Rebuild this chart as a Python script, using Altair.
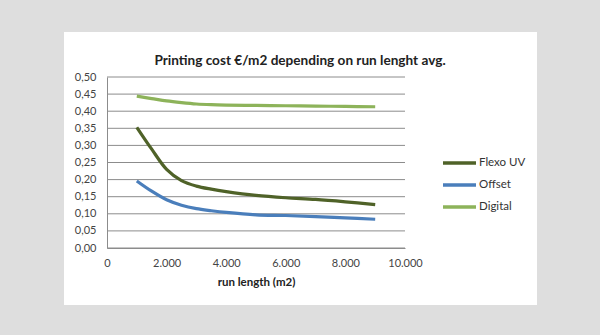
import altair as alt
import pandas as pd

run_length = [1000, 1500, 2000, 2500, 3000, 3500, 4000, 5000, 6000, 7000, 8000, 9000]
flexo_uv = [0.353, 0.289, 0.230, 0.197, 0.181, 0.172, 0.165, 0.154, 0.147, 0.142, 0.135, 0.127]
offset = [0.196, 0.166, 0.141, 0.125, 0.115, 0.109, 0.104, 0.097, 0.095, 0.092, 0.088, 0.084]
digital = [0.444, 0.437, 0.430, 0.425, 0.421, 0.419, 0.418, 0.417, 0.416, 0.415, 0.414, 0.413]

series = ["Flexo UV", "Offset", "Digital"]
colors = ["#4f6228", "#4a7ebb", "#8db35a"]

y_ticks = [0, 0.05, 0.1, 0.15, 0.2, 0.25, 0.3, 0.35, 0.4, 0.45, 0.5]
x_ticks = [0, 2000, 4000, 6000, 8000, 10000]

rows = []
for name, vals in zip(series, [flexo_uv, offset, digital]):
    for x, v in zip(run_length, vals):
        rows.append({"run": x, "cost": v, "series": name})
df = pd.DataFrame(rows)

FONT = "Lato"

xscale = alt.Scale(domain=[0, 10000], nice=False)
yscale = alt.Scale(domain=[0, 0.5], nice=False)

y_axis = alt.Axis(values=y_ticks,
                  labelExpr="replace(format(datum.value, '.2f'), '.', ',')",
                  title=None, grid=False, ticks=False, labelFlush=False,
                  domainColor="#8c8c8c", labelPadding=11, zindex=1)

panel = alt.Chart(pd.DataFrame({"a": [0]})).mark_rect(color="white").encode(
    x=alt.value(-43), x2=alt.value(430), y=alt.value(-45), y2=alt.value(228)
)

grid = alt.Chart(pd.DataFrame({"cost": y_ticks})).mark_rule(color="#8c8c8c", strokeWidth=1).encode(
    y=alt.Y("cost:Q", scale=yscale, axis=y_axis),
    x=alt.value(0), x2=alt.value(298),
)

lines = alt.Chart(df).mark_line(strokeWidth=3.2, interpolate="catmull-rom").encode(
    x=alt.X("run:Q", scale=xscale,
            axis=alt.Axis(values=x_ticks,
                          labelExpr="replace(format(datum.value, ','), ',', '.')",
                          title="run length (m2)", grid=False, ticks=False, labelFlush=False,
                          domainColor="#8c8c8c", labelPadding=9, titlePadding=8,
                          titleFontWeight="bold", titleFontSize=11.5, titleColor="#222222",
                          zindex=1)),
    y=alt.Y("cost:Q", scale=yscale, axis=y_axis),
    color=alt.Color("series:N", scale=alt.Scale(domain=series, range=colors),
                    sort=series,
                    legend=alt.Legend(title=None, orient="none", legendX=334, legendY=75,
                                      symbolType="stroke", symbolSize=1089,
                                      symbolStrokeWidth=3.5, labelFontSize=11.5,
                                      labelColor="#333333", labelFont=FONT,
                                      clipHeight=22, rowPadding=0, labelOffset=1)),
)

chart = alt.layer(panel, grid, lines).properties(
    width=298, height=171,
    autosize=alt.AutoSizeParams(type="none"),
    padding={"left": 107, "top": 77, "right": 195, "bottom": 87},
    background="#dedede",
    title=alt.TitleParams("Printing cost €/m2 depending on run lenght avg.",
                          font=FONT, fontSize=13.6, fontWeight="bold", color="#222222",
                          anchor="middle", dx=44, offset=-36),
).configure_view(stroke=None).configure_axis(
    labelFont=FONT, titleFont=FONT, labelFontSize=11, labelColor="#444444"
)

chart.save("out.html", embed_options={"renderer": "svg", "actions": False})
